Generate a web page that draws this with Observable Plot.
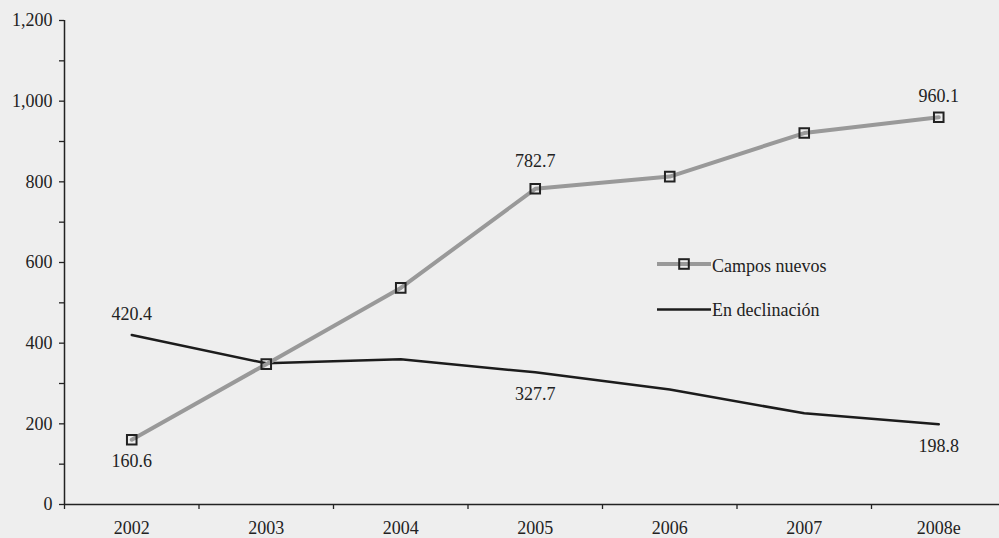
<!DOCTYPE html>
<html>
<head>
<meta charset="utf-8">
<script src="https://cdn.jsdelivr.net/npm/d3@7"></script>
<script src="https://cdn.jsdelivr.net/npm/@observablehq/plot@0.6"></script>
<style>
  html, body { margin: 0; padding: 0; background: #eeeeee; }
  #chart { position: relative; width: 999px; height: 538px; overflow: hidden; }
  #legend { position: absolute; left: 0; top: 0; pointer-events: none; }
</style>
</head>
<body>
<div id="chart"></div>
<script>
// Producción por tipo de campo
const years = ["2002", "2003", "2004", "2005", "2006", "2007", "2008e"];
const camposNuevos = [160.6, 348, 537, 782.7, 813, 921, 960.1];
const enDeclinacion = [420.4, 350, 360, 327.7, 285, 226, 198.8];
const yTicks = [0, 200, 400, 600, 800, 1000, 1200];
const yMinorTicks = [100, 300, 500, 700, 900, 1100];
const seriesNames = ["Campos nuevos", "En declinación"];

// Labelled points: [series, year index, placement]
const labelled = [
  ["En declinación", 0, "above"],
  ["Campos nuevos", 0, "below"],
  ["Campos nuevos", 3, "aboveFar"],
  ["En declinación", 3, "below"],
  ["Campos nuevos", 6, "above"],
  ["En declinación", 6, "below"]
];

const nuevos = years.map((year, i) => ({i, year, value: camposNuevos[i], series: seriesNames[0]}));
const declinacion = years.map((year, i) => ({i, year, value: enDeclinacion[i], series: seriesNames[1]}));
const bySeries = {[seriesNames[0]]: nuevos, [seriesNames[1]]: declinacion};
const labelRows = labelled.map(([s, i, pos]) => ({...bySeries[s][i], pos}));

const yearIndex = years.map((_, i) => i);
const boundaries = years.map((_, i) => i - 0.5);

const ink = "#222";
const fmt = d3.format(",");

const plot = Plot.plot({
  width: 999,
  height: 538,
  marginLeft: 64,
  marginRight: 0,
  marginTop: 20,
  marginBottom: 34,
  style: {
    background: "transparent",
    fontFamily: "'Liberation Serif', 'Times New Roman', serif",
    fontSize: "18px",
    color: ink
  },
  x: {type: "linear", domain: [-0.5, years.length - 0.5], range: [64, 1005.5], label: null},
  y: {domain: [0, 1200], label: null},
  marks: [
    Plot.axisY({ticks: yTicks, tickSize: 5, tickPadding: 7, tickFormat: fmt, stroke: ink, strokeWidth: 1.3}),
    Plot.axisY({ticks: yMinorTicks, tickSize: 5, tickFormat: () => "", stroke: ink, strokeWidth: 1.3}),
    Plot.axisX({ticks: boundaries, tickSize: 5, tickFormat: () => "", stroke: ink, strokeWidth: 1.3}),
    Plot.axisX({ticks: yearIndex, tickSize: 0, tickPadding: 17, tickFormat: i => years[i]}),
    Plot.ruleX([-0.5], {stroke: ink, strokeWidth: 1.5}),
    Plot.ruleY([0], {stroke: ink, strokeWidth: 1.5}),
    Plot.line(declinacion, {x: "i", y: "value", stroke: "#1c1c1c", strokeWidth: 2.5}),
    Plot.line(nuevos, {x: "i", y: "value", stroke: "#999999", strokeWidth: 4}),
    Plot.dot(nuevos, {x: "i", y: "value", symbol: "square", r: 5.4, stroke: ink, strokeWidth: 2, fill: "none"}),
    Plot.text(labelRows.filter(d => d.pos === "above"), {x: "i", y: "value", text: d => d.value.toFixed(1), dy: -21, fill: ink}),
    Plot.text(labelRows.filter(d => d.pos === "aboveFar"), {x: "i", y: "value", text: d => d.value.toFixed(1), dy: -28, fill: ink}),
    Plot.text(labelRows.filter(d => d.pos === "below"), {x: "i", y: "value", text: d => d.value.toFixed(1), dy: 22, fill: ink})
  ]
});

const chart = document.getElementById("chart");
chart.appendChild(plot);

// Legend inside the plot area
const legend = d3.select(chart).append("svg")
  .attr("id", "legend")
  .attr("width", 999)
  .attr("height", 538)
  .style("font-family", "'Liberation Serif', 'Times New Roman', serif")
  .style("font-size", "18px");

const legendItems = [
  {name: seriesNames[0], stroke: "#999999", width: 4, marker: true, y: 264, baseline: 271.5},
  {name: seriesNames[1], stroke: "#1c1c1c", width: 2.5, marker: false, y: 309.5, baseline: 316}
];
const g = legend.selectAll("g").data(legendItems).join("g");
g.append("line")
  .attr("x1", 657).attr("x2", 711)
  .attr("y1", d => d.y).attr("y2", d => d.y)
  .attr("stroke", d => d.stroke).attr("stroke-width", d => d.width);
g.filter(d => d.marker).append("rect")
  .attr("x", 684 - 4.8).attr("y", d => d.y - 4.8)
  .attr("width", 9.6).attr("height", 9.6)
  .attr("fill", "none").attr("stroke", ink).attr("stroke-width", 2);
g.append("text")
  .attr("x", 712).attr("y", d => d.baseline)
  .attr("fill", ink)
  .text(d => d.name);
</script>
</body>
</html>
